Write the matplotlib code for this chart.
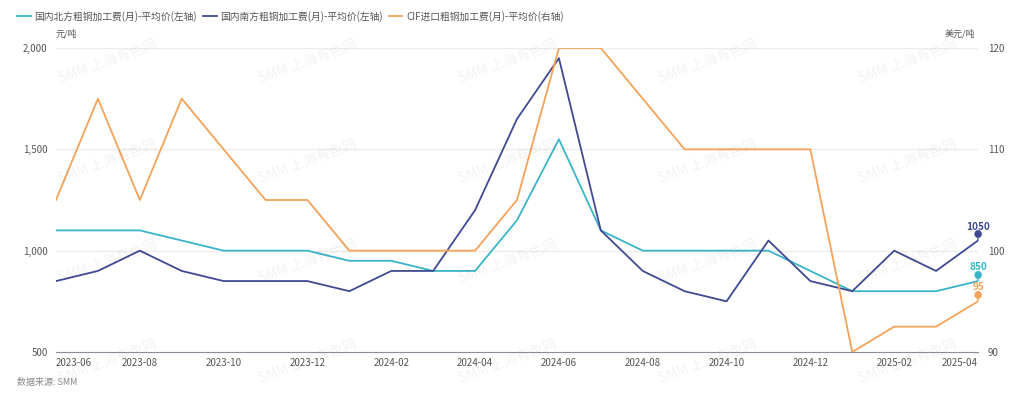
import matplotlib
matplotlib.use("Agg")
import matplotlib.pyplot as plt
import numpy as np

plt.rcParams['font.family'] = ['Noto Sans CJK SC', 'DejaVu Sans']

# monthly data, 2023-06 .. 2025-04
months = ["2023-06", "2023-07", "2023-08", "2023-09", "2023-10", "2023-11", "2023-12",
          "2024-01", "2024-02", "2024-03", "2024-04", "2024-05", "2024-06", "2024-07",
          "2024-08", "2024-09", "2024-10", "2024-11", "2024-12", "2025-01", "2025-02",
          "2025-03", "2025-04"]
north = [1100, 1100, 1100, 1050, 1000, 1000, 1000, 950, 950, 900, 900, 1150, 1550, 1100,
         1000, 1000, 1000, 1000, 900, 800, 800, 800, 850]
south = [850, 900, 1000, 900, 850, 850, 850, 800, 900, 900, 1200, 1650, 1950, 1100,
         900, 800, 750, 1050, 850, 800, 1000, 900, 1050]
cif = [105, 115, 105, 115, 110, 105, 105, 100, 100, 100, 100, 105, 120, 120,
       115, 110, 110, 110, 110, 90, 92.5, 92.5, 95]

names = ["国内北方粗铜加工费(月)-平均价(左轴)", "国内南方粗铜加工费(月)-平均价(左轴)",
         "CIF进口粗铜加工费(月)-平均价(右轴)"]
c_north, c_south, c_cif = "#3AB4C8", "#3F4A93", "#F5A25A"

fig = plt.figure(figsize=(10.24, 3.99), dpi=100)
ax = fig.add_axes([56 / 1024, 47 / 399, 922 / 1024, 304 / 399])
ax2 = ax.twinx()

x = np.arange(len(months))
l1, = ax.plot(x, north, color=c_north, lw=1.3)
l2, = ax.plot(x, south, color=c_south, lw=1.3)
l3, = ax2.plot(x, cif, color=c_cif, lw=1.3)

ax.set_xlim(0, len(months) - 1)
ax.set_ylim(500, 2000)
ax2.set_ylim(90, 120)
ax.set_yticks([500, 1000, 1500, 2000])
ax.set_yticklabels(["500", "1,000", "1,500", "2,000"])
ax2.set_yticks([90, 100, 110, 120])

for v in [1000, 1500, 2000]:
    ax.axhline(v, color="#ECECEC", lw=1, zorder=0)

for a in (ax, ax2):
    for s in a.spines.values():
        s.set_visible(False)
    a.tick_params(length=0, labelsize=7, colors="#555555")
ax.spines["bottom"].set_visible(True)
ax.spines["bottom"].set_color("#8A8F99")
ax.tick_params(axis="y", pad=6)
ax2.tick_params(axis="y", pad=7)

ticks = x[::2]
ax.set_xticks(ticks)
ax.set_xticklabels([months[i] for i in ticks])
labs = ax.get_xticklabels()
labs[0].set_ha("left")
labs[-1].set_ha("right")
ax.tick_params(axis="x", pad=4)

# end labels with small pin markers
last = len(months) - 1
for a, val, col, txt in [(ax, south[-1], c_south, "1050"), (ax, north[-1], c_north, "850"),
                         (ax2, cif[-1], c_cif, "95")]:
    a.annotate("", xy=(last, val), xytext=(0, 3.5), textcoords="offset points",
               arrowprops=dict(arrowstyle="-", color=col, lw=0.9))
    a.annotate("●", xy=(last, val), xytext=(0, 4), textcoords="offset points",
               ha="center", va="center", color=col, fontsize=6)
    a.annotate(txt, xy=(last, val), xytext=(0, 6.5), textcoords="offset points",
               ha="center", va="bottom", color=col, fontsize=7.2, fontweight="bold")

# units
fig.text(56 / 1024, 1 - 34 / 399, "元/吨", fontsize=6.5, color="#555555", va="center")
fig.text(975 / 1024, 1 - 34 / 399, "美元/吨", fontsize=6.5, color="#555555", va="center", ha="right")

# legend
fig.legend([l1, l2, l3], names, loc="upper left", bbox_to_anchor=(0.008, 0.995), ncol=3,
           frameon=False, fontsize=7, handlelength=1.4, handletextpad=0.4,
           columnspacing=0.6, labelcolor="#555555")

# source
fig.text(17 / 1024, 1 - 382 / 399, "数据来源: SMM", fontsize=6.5, color="#888888",
         style="italic", va="center")

# watermarks
for wx in [108, 308, 508, 708, 908]:
    for wy in [62, 162, 262, 362]:
        fig.text(wx / 1024, 1 - wy / 399, "SMM 上海有色网", fontsize=10, color="#000000",
                 alpha=0.05, rotation=20, ha="center", va="center")

fig.savefig("out.png", dpi=100)
